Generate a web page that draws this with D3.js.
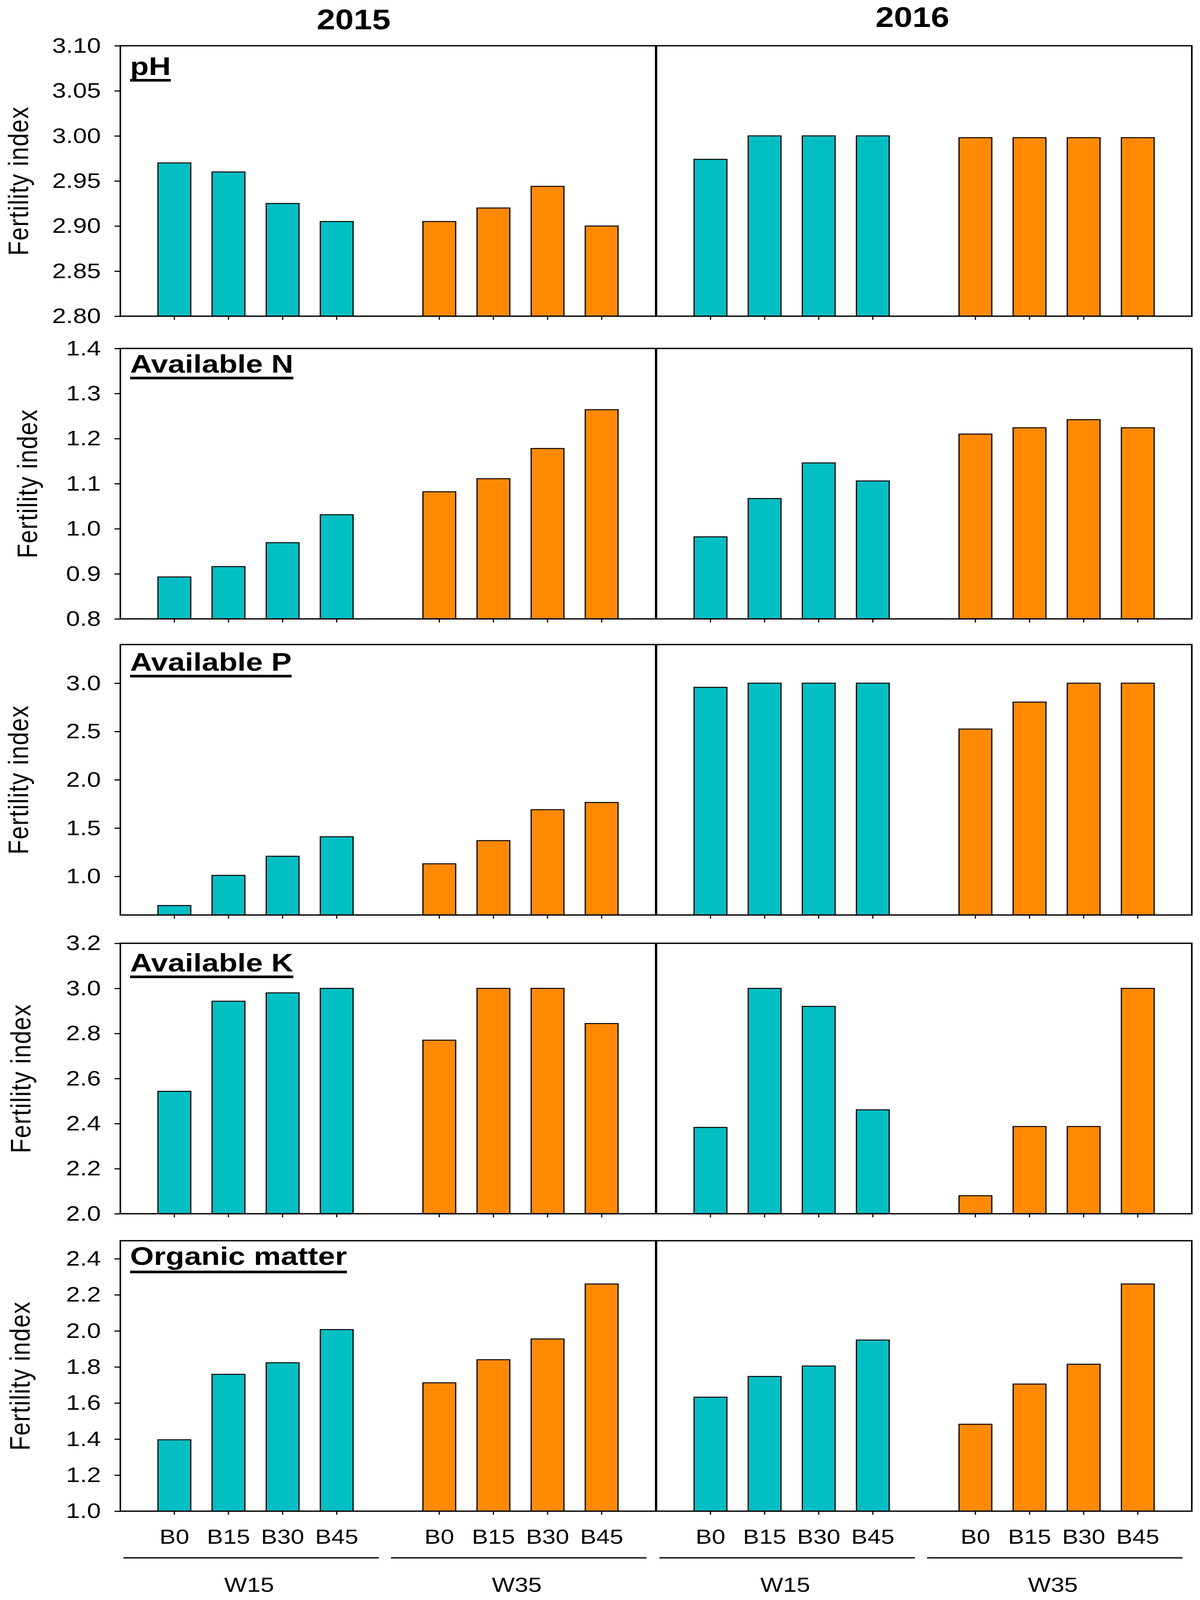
<!DOCTYPE html>
<html>
<head>
<meta charset="utf-8">
<script src="https://cdn.jsdelivr.net/npm/d3@7"></script>
<style>
  html, body { margin: 0; padding: 0; background: #fff; overflow: hidden; }
  svg { display: block; }
  text { font-family: "Liberation Sans", Arial, sans-serif; fill: #000; }
</style>
</head>
<body>
<div id="chart"></div>
<script>
// data
var years = ["2015", "2016"];
var waters = ["W15", "W35"];
var levels = ["B0", "B15", "B30", "B45"];
var params = ["pH", "Available N", "Available P", "Available K", "Organic matter"];

// each array: W15 B0..B45, then W35 B0..B45
var ph2015 = [2.970, 2.960, 2.925, 2.905, 2.905, 2.920, 2.944, 2.900];
var ph2016 = [2.974, 3.000, 3.000, 3.000, 2.998, 2.998, 2.998, 2.998];
var n2015 = [0.893, 0.916, 0.969, 1.031, 1.082, 1.111, 1.178, 1.264];
var n2016 = [0.982, 1.067, 1.146, 1.106, 1.210, 1.224, 1.242, 1.224];
var p2015 = [0.698, 1.010, 1.208, 1.410, 1.130, 1.370, 1.690, 1.765];
var p2016 = [2.957, 3.000, 3.000, 3.000, 2.525, 2.804, 3.000, 3.000];
var k2015 = [2.543, 2.943, 2.980, 3.000, 2.770, 3.000, 3.000, 2.844];
var k2016 = [2.383, 3.000, 2.920, 2.461, 2.080, 2.387, 2.387, 3.000];
var om2015 = [1.396, 1.759, 1.823, 2.007, 1.712, 1.840, 1.955, 2.260];
var om2016 = [1.632, 1.747, 1.805, 1.949, 1.482, 1.705, 1.815, 2.260];

var values = [
    [ph2015, ph2016],
    [n2015, n2016],
    [p2015, p2016],
    [k2015, k2016],
    [om2015, om2016]
];

var yDomains = [[2.80, 3.10], [0.8, 1.4], [0.6, 3.4], [2.0, 3.2], [1.0, 2.5]];
var phTicks = [2.80, 2.85, 2.90, 2.95, 3.00, 3.05, 3.10];
var nTicks = [0.8, 0.9, 1.0, 1.1, 1.2, 1.3, 1.4];
var pTicks = [1.0, 1.5, 2.0, 2.5, 3.0];
var kTicks = [2.0, 2.2, 2.4, 2.6, 2.8, 3.0, 3.2];
var omTicks = [1.0, 1.2, 1.4, 1.6, 1.8, 2.0, 2.2, 2.4];
var yTicks = [phTicks, nTicks, pTicks, kTicks, omTicks];
var yFormats = [".2f", ".1f", ".1f", ".1f", ".1f"];

// layout (drawn in a 3071 x 4863 frame, fitted to the window)
var svgWidth = 3071;
var svgHeight = 4863;
var rowTop = [139, 1059, 1959, 2867, 3771];
var rowH = 822;
var colLeft = [308, 1680];
var colW = 1370;
var labelY = [89, 74, 80, 86, 73];
var titleX = [72, 95, 72, 78, 76];
var yearX = [905, 2335];
var yearY = [89, 82];
var colors = { W15: "#03bfc4", W35: "#ff8903" };

// the window can be shorter than the frame, so scale the frame to fit it
var winW = window.innerWidth || svgWidth;
var winH = window.innerHeight || svgHeight;

var svg = d3.select("#chart")
    .append("svg")
    .attr("width", winW)
    .attr("height", Math.min(winH, svgHeight))
    .attr("viewBox", `0 0 ${svgWidth} ${svgHeight}`)
    .attr("preserveAspectRatio", "none");

var x0 = d3.scaleBand()
    .domain(waters)
    .range([0, colW])
    .paddingInner(0.2634)
    .paddingOuter(0.142);

var x1 = d3.scaleBand()
    .domain(levels)
    .range([0, x0.bandwidth()])
    .paddingInner(0.394);

// year titles
years.forEach(function(yr, c) {
    svg.append("text")
        .attr("x", yearX[c])
        .attr("y", yearY[c])
        .attr("text-anchor", "middle")
        .attr("font-size", 85)
        .attr("font-weight", "bold")
        .text(yr);
});

params.forEach(function(param, r) {
    var yScale = d3.scaleLinear()
        .domain(yDomains[r])
        .range([rowH, 0]);

    // y title
    svg.append("text")
        .attr("transform", `translate(${titleX[r]}, ${rowTop[r] + rowH / 2}) rotate(-90)`)
        .attr("text-anchor", "middle")
        .attr("font-size", 72)
        .attr("letter-spacing", 2)
        .text("Fertility index");

    years.forEach(function(yr, c) {
        var panel = svg.append("g")
            .attr("transform", `translate(${colLeft[c]}, ${rowTop[r]})`);

        var rows = values[r][c].map(function(v, i) {
            return { water: waters[Math.floor(i / 4)], level: levels[i % 4], value: v };
        });

        panel.selectAll("rect.bar")
            .data(rows)
            .enter()
            .append("rect")
            .attr("class", "bar")
            .attr("x", d => x0(d.water) + x1(d.level))
            .attr("y", d => yScale(d.value))
            .attr("width", x1.bandwidth())
            .attr("height", d => rowH - yScale(d.value))
            .attr("fill", d => colors[d.water])
            .attr("stroke", "#000")
            .attr("stroke-width", 3);

        // x ticks for each water group
        waters.forEach(function(w) {
            var bottomAxis = d3.axisBottom(x1)
                .tickSize(11)
                .tickPadding(44)
                .tickFormat(r == params.length - 1 ? (d => d) : "");
            var xg = panel.append("g")
                .attr("transform", `translate(${x0(w)}, ${rowH})`)
                .call(bottomAxis);
            xg.select(".domain").remove();
            xg.selectAll("line").attr("stroke-width", 3);
            xg.selectAll("text")
                .attr("font-size", 62)
                .attr("font-family", "'Liberation Sans', Arial, sans-serif");
        });

        if (c == 0) {
            var leftAxis = d3.axisLeft(yScale)
                .tickValues(yTicks[r])
                .tickSize(15)
                .tickPadding(35)
                .tickFormat(d3.format(yFormats[r]));
            var yg = panel.append("g").call(leftAxis);
            yg.select(".domain").remove();
            yg.selectAll("line").attr("stroke-width", 3.5);
            yg.selectAll("text")
                .attr("font-size", 64)
                .attr("font-family", "'Liberation Sans', Arial, sans-serif");

            // panel label, underlined
            var label = panel.append("text")
                .attr("x", 25)
                .attr("y", labelY[r])
                .attr("font-size", 78)
                .attr("font-weight", "bold")
                .text(param);
            var lw = label.node().getComputedTextLength();
            panel.append("rect")
                .attr("x", 25)
                .attr("y", labelY[r] + (param == "Organic matter" ? 18 : 12))
                .attr("width", lw)
                .attr("height", 8)
                .attr("fill", "#000");
        }

        // frame
        panel.append("rect")
            .attr("x", 0)
            .attr("y", 0)
            .attr("width", colW)
            .attr("height", rowH)
            .attr("fill", "none")
            .attr("stroke", "#000")
            .attr("stroke-width", 4);
    });
});

// water group lines and labels under the bottom row
years.forEach(function(yr, c) {
    waters.forEach(function(w, k) {
        var cx = colLeft[c] + (k + 0.5) * colW / 2 - 8;
        svg.append("line")
            .attr("x1", cx - 327)
            .attr("x2", cx + 327)
            .attr("y1", 4735)
            .attr("y2", 4735)
            .attr("stroke", "#000")
            .attr("stroke-width", 4);
        svg.append("text")
            .attr("x", cx - 5)
            .attr("y", 4838)
            .attr("text-anchor", "middle")
            .attr("font-size", 62)
            .text(w);
    });
});
</script>
</body>
</html>
